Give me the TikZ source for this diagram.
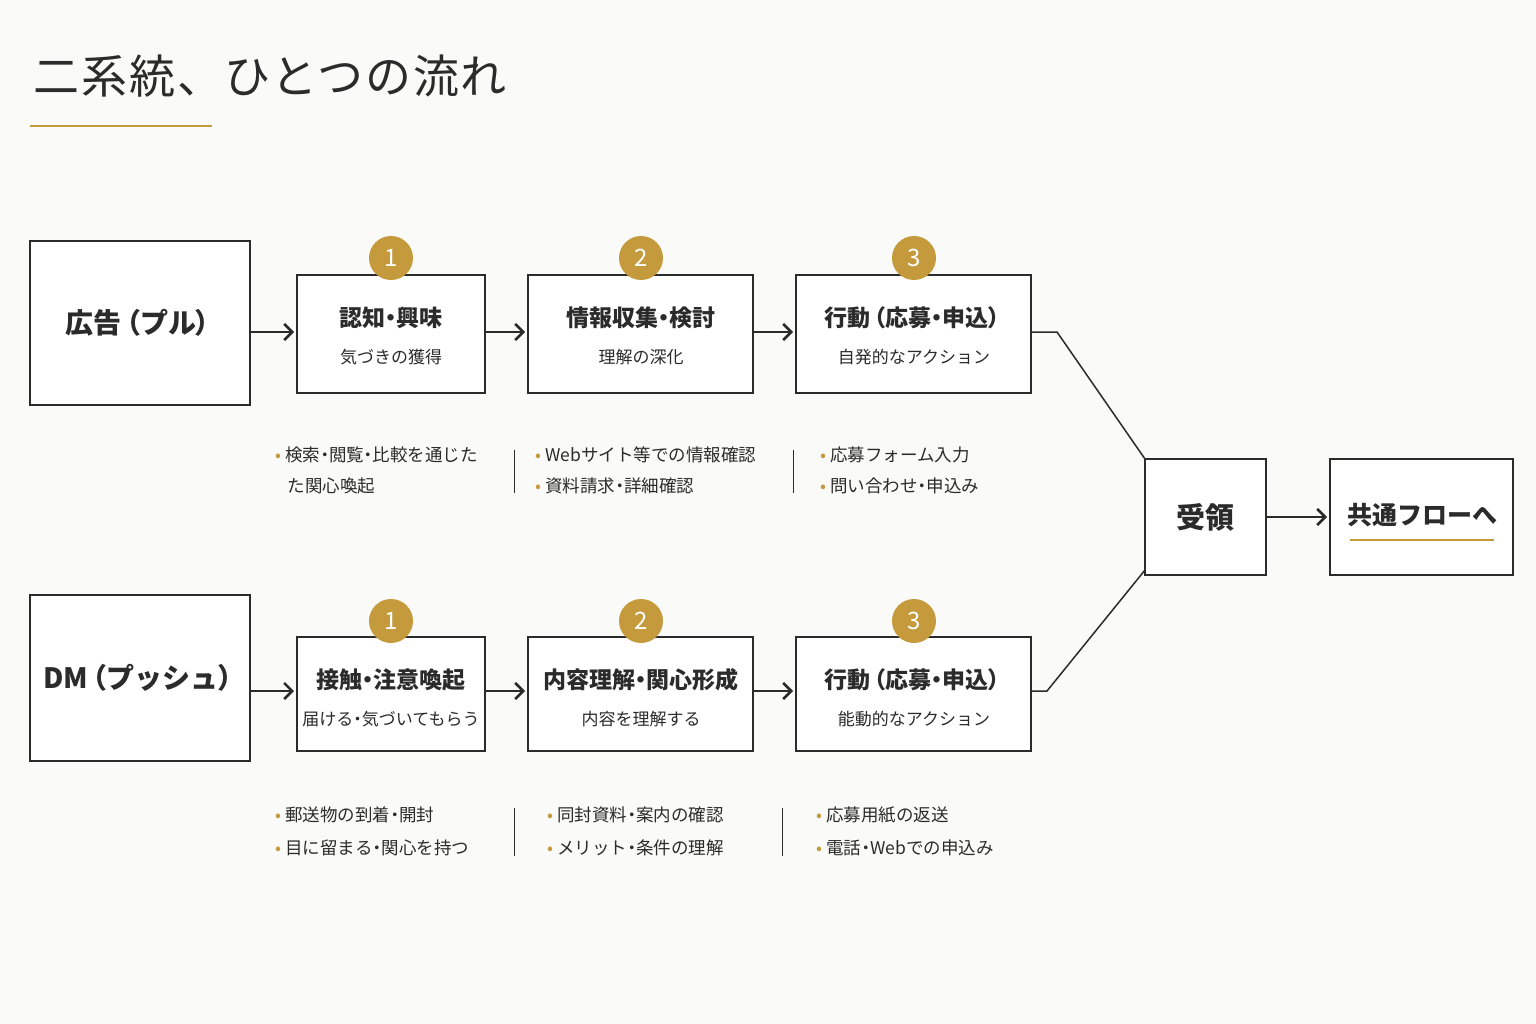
\documentclass[tikz,border=0pt]{standalone}
\usepackage{fontspec}
\setmainfont{Noto Sans CJK JP}
\usetikzlibrary{arrows.meta}
\definecolor{gold}{HTML}{C49A3C}
\definecolor{ink}{HTML}{2B2B2B}
\definecolor{bg}{HTML}{FAFAF8}
\newcommand{\md}{\kern-0.25em・\kern-0.25em}
\newcommand{\lp}{\kern-0.3em（\kern-0.05em}
\newcommand{\rp}{\kern-0.05em）\kern-0.3em}
\begin{document}
\begin{tikzpicture}[x=1pt,y=-1pt,
  box/.style={draw=ink,line width=1.5pt,fill=white},
  arr/.style={draw=ink,line width=2.6pt,-{Straight Barb[length=8pt,width=16pt,line width=2.6pt]}},
  num/.style={circle,fill=gold,text=white,minimum size=44pt,inner sep=0pt,font=\fontsize{24}{24}\selectfont},
  ttl/.style={font=\fontsize{23}{23}\selectfont\bfseries,text=ink},
  sub/.style={font=\fontsize{17}{17}\selectfont,text=ink},
  bul/.style={font=\fontsize{17.5}{17.5}\selectfont,text=ink,anchor=west},
  sep/.style={draw=ink,line width=1pt}]
\fill[bg] (0,0) rectangle (1536,1024);
\useasboundingbox (0,0) rectangle (1536,1024);
\node[anchor=west,font=\fontsize{46}{46}\selectfont\addfontfeatures{LetterSpace=4},text=ink] (title) at (30,76) {二系統、ひとつの流れ};
\draw[gold,line width=2.5pt] (30,126) -- (212,126);

% top row
\draw[box] (30,241) rectangle (250,405); \node[ttl,font=\fontsize{28}{28}\selectfont\bfseries] (a0) at (140,323) {広告\lp プル\rp};
\coordinate (a0e) at (250,332);
\draw[box] (297,275) rectangle (485,393);
\node[ttl] (a1) at (391,318) {認知\md 興味}; \node[sub] (a1s) at (391,357) {気づきの獲得};
\draw[box] (528,275) rectangle (753,393);
\node[ttl] (a2) at (641,318) {情報収集\md 検討}; \node[sub] (a2s) at (641,357) {理解の深化};
\draw[box] (796,275) rectangle (1031,393);
\node[ttl] (a3) at (914,318) {行動\lp 応募\md 申込\rp}; \node[sub] (a3s) at (914,357) {自発的なアクション};
\node[num] (n1) at (391,258) {1}; \node[num] (n2) at (641,258) {2}; \node[num] (n3) at (914,258) {3};
\coordinate (a1w) at (294,332); \coordinate (a1e) at (485,332);
\coordinate (a2w) at (525,332); \coordinate (a2e) at (753,332);
\coordinate (a3w) at (793,332); \coordinate (a3e) at (1031,332);
\draw[arr] (a0e) -- (a1w); \draw[arr] (a1e) -- (a2w); \draw[arr] (a2e) -- (a3w);

% top bullets
\node[bul] (b1) at (272,455) {\textcolor{gold}{•} 検索\md 閲覧\md 比較を通じた};
\node[bul] (b2) at (284,486) {た関心喚起};
\draw[sep] (514,450) -- (514,493);
\node[bul] (b3) at (532,455) {\textcolor{gold}{•} Webサイト等での情報確認};
\node[bul] (b4) at (532,486) {\textcolor{gold}{•} 資料請求\md 詳細確認};
\draw[sep] (793,450) -- (793,493);
\node[bul] (b5) at (817,455) {\textcolor{gold}{•} 応募フォーム入力};
\node[bul] (b6) at (817,486) {\textcolor{gold}{•} 問い合わせ\md 申込み};

% bottom row
\draw[box] (30,595) rectangle (250,761); \node[ttl,font=\fontsize{28}{28}\selectfont\bfseries] (d0) at (140,678) {DM\lp プッシュ\rp};
\coordinate (d0e) at (250,691);
\draw[box] (297,637) rectangle (485,751);
\node[ttl] (d1) at (391,680) {接触\md 注意喚起}; \node[sub] (d1s) at (391,719) {届ける\md 気づいてもらう};
\draw[box] (528,637) rectangle (753,751);
\node[ttl] (d2) at (641,680) {内容理解\md 関心形成}; \node[sub] (d2s) at (641,719) {内容を理解する};
\draw[box] (796,637) rectangle (1031,751);
\node[ttl] (d3) at (914,680) {行動\lp 応募\md 申込\rp}; \node[sub] (d3s) at (914,719) {能動的なアクション};
\node[num] (m1) at (391,621) {1}; \node[num] (m2) at (641,621) {2}; \node[num] (m3) at (914,621) {3};
\coordinate (d1w) at (294,691); \coordinate (d1e) at (485,691);
\coordinate (d2w) at (525,691); \coordinate (d2e) at (753,691);
\coordinate (d3w) at (793,691); \coordinate (d3e) at (1031,691);
\draw[arr] (d0e) -- (d1w); \draw[arr] (d1e) -- (d2w); \draw[arr] (d2e) -- (d3w);

\node[bul] (c1) at (272,815) {\textcolor{gold}{•} 郵送物の到着\md 開封};
\node[bul] (c2) at (272,848) {\textcolor{gold}{•} 目に留まる\md 関心を持つ};
\draw[sep] (514,808) -- (514,856);
\node[bul] (c3) at (544,815) {\textcolor{gold}{•} 同封資料\md 案内の確認};
\node[bul] (c4) at (544,848) {\textcolor{gold}{•} メリット\md 条件の理解};
\draw[sep] (782,808) -- (782,856);
\node[bul] (c5) at (813,815) {\textcolor{gold}{•} 応募用紙の返送};
\node[bul] (c6) at (813,848) {\textcolor{gold}{•} 電話\md Webでの申込み};

% merge
\draw[box] (1145,459) rectangle (1266,575);
\node[ttl,font=\fontsize{29}{29}\selectfont\bfseries] (r) at (1205,517) {受領};
\coordinate (rt) at (1145,459); \coordinate (rb) at (1145,570);
\draw[ink,line width=1.5pt] (a3e) -- (1057,332) -- (rt);
\draw[ink,line width=1.5pt] (d3e) -- (1047,691) -- (rb);
\draw[box] (1330,459) rectangle (1513,575);
\node[ttl,font=\fontsize{25}{25}\selectfont\bfseries] (k) at (1422,515) {共通フローへ};
\draw[gold,line width=1.5pt] (1350,540) -- (1494,540);
\coordinate (re) at (1266,517); \coordinate (kw) at (1327,517);
\draw[arr] (re) -- (kw);
\end{tikzpicture}
\end{document}
